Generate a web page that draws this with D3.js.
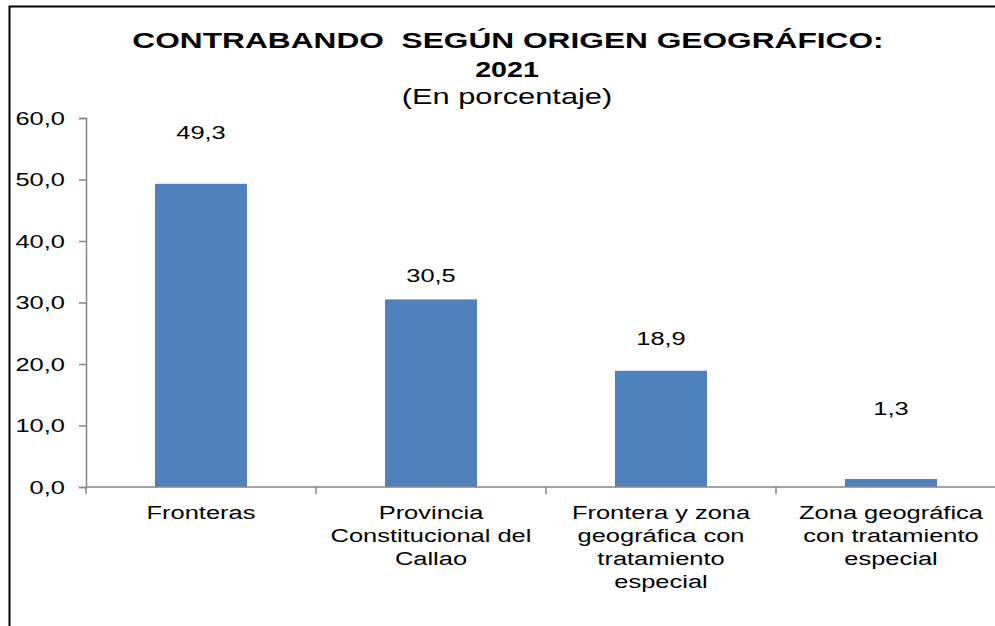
<!DOCTYPE html>
<html>
<head>
<meta charset="utf-8">
<script src="https://cdn.jsdelivr.net/npm/d3@7"></script>
<style>
  body { margin: 0; background: #fff; }
  svg text { font-family: "Liberation Sans", Arial, sans-serif; fill: #000; }
</style>
</head>
<body>
<div id="chart"></div>
<script>
// Data
const categories = [
  ['Fronteras'],
  ['Provincia', 'Constitucional del', 'Callao'],
  ['Frontera y zona', 'geográfica con', 'tratamiento', 'especial'],
  ['Zona geográfica', 'con tratamiento', 'especial']
]
const values = [49.3, 30.5, 18.9, 1.3]
const yTicks = [0, 10, 20, 30, 40, 50, 60]

// Label lift above bar top, in px (as placed in the original)
const labelLift = [45, 17, 26, 64]

// the original text is stretched sideways
const stretch = 1.34

const width = 995
const height = 626
const margin = { top: 118, right: -11, bottom: 139, left: 86 }
const innerW = width - margin.left - margin.right
const innerH = height - margin.top - margin.bottom

const root = d3
  .select('#chart')
  .append('svg')
  .attr('width', width)
  .attr('height', height)

// Outer frame
root
  .append('rect')
  .attr('x', 9.5)
  .attr('y', 6.5)
  .attr('width', 1000)
  .attr('height', 700)
  .attr('fill', 'none')
  .attr('stroke', '#000')
  .attr('stroke-width', 2)

// Title
const title = root.append('g').attr('text-anchor', 'middle')
title
  .append('text')
  .attr('transform', 'translate(508,48) scale(1.44,1)')
  .attr('font-size', 22)
  .attr('font-weight', 'bold')
  .attr('xml:space', 'preserve')
  .text('CONTRABANDO  SEGÚN ORIGEN GEOGRÁFICO:')
title
  .append('text')
  .attr('transform', 'translate(507,77) scale(1.3,1)')
  .attr('font-size', 22)
  .attr('font-weight', 'bold')
  .text('2021')
title
  .append('text')
  .attr('transform', 'translate(507,104) scale(1.4,1)')
  .attr('font-size', 22)
  .text('(En porcentaje)')

const svg = root
  .append('g')
  .attr('transform', `translate(${margin.left},${margin.top})`)

// Scales
const x = d3
  .scaleBand()
  .domain(d3.range(categories.length))
  .range([0, innerW])
  .paddingInner(0.6)
  .paddingOuter(0.3)

const y = d3.scaleLinear().domain([0, 60]).range([innerH, 0])

const fmt = d => d3.format('.1f')(d).replace('.', ',')

// Y axis
const yAxis = svg
  .append('g')
  .call(
    d3
      .axisLeft(y)
      .tickValues(yTicks)
      .tickSize(7)
      .tickPadding(13)
      .tickFormat(fmt),
  )
yAxis.select('.domain').attr('stroke', '#868686').attr('stroke-width', 1.5)
yAxis.selectAll('.tick line').attr('stroke', '#868686').attr('stroke-width', 1.5)
yAxis
  .selectAll('.tick text')
  .attr('font-size', 19)
  .attr('font-family', null)
  .attr('x', 0)
  .attr('transform', `translate(-21,0) scale(${stretch},1)`)

// Bars
svg
  .selectAll('.bar')
  .data(values)
  .enter()
  .append('rect')
  .attr('class', 'bar')
  .attr('x', (d, i) => x(i))
  .attr('width', x.bandwidth())
  .attr('y', d => y(d))
  .attr('height', d => innerH - y(d))
  .attr('fill', '#4F81BD')

// X axis line and category ticks
const step = x.step()
svg
  .append('line')
  .attr('x1', 0)
  .attr('x2', innerW)
  .attr('y1', innerH)
  .attr('y2', innerH)
  .attr('stroke', '#868686')
  .attr('stroke-width', 1.5)
svg
  .selectAll('.xtick')
  .data(d3.range(categories.length))
  .enter()
  .append('line')
  .attr('class', 'xtick')
  .attr('x1', i => x(i) - x.paddingOuter() * step)
  .attr('x2', i => x(i) - x.paddingOuter() * step)
  .attr('y1', innerH)
  .attr('y2', innerH + 7)
  .attr('stroke', '#868686')
  .attr('stroke-width', 1.5)

// Category labels
const catLabels = svg
  .selectAll('.cat')
  .data(categories)
  .enter()
  .append('text')
  .attr('class', 'cat')
  .attr('text-anchor', 'middle')
  .attr('font-size', 19)
  .attr(
    'transform',
    (d, i) =>
      `translate(${x(i) + x.bandwidth() / 2},${innerH + 32}) scale(${stretch},1)`,
  )
catLabels
  .selectAll('tspan')
  .data(d => d)
  .enter()
  .append('tspan')
  .attr('x', 0)
  .attr('y', (d, i) => i * 23)
  .text(d => d)

// Value labels
svg
  .selectAll('.bar-label')
  .data(values)
  .enter()
  .append('text')
  .attr('class', 'bar-label')
  .attr('text-anchor', 'middle')
  .attr('font-size', 19)
  .attr(
    'transform',
    (d, i) =>
      `translate(${x(i) + x.bandwidth() / 2},${y(d) - labelLift[i]}) scale(${stretch},1)`,
  )
  .text(fmt)
</script>
</body>
</html>
